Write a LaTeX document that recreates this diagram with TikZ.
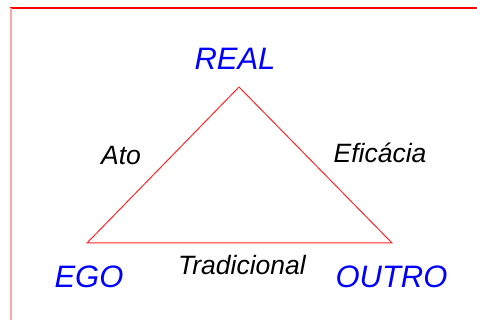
\documentclass[tikz,border=0pt]{standalone}
\usepackage{fontspec}
\setmainfont{Liberation Sans}
\usetikzlibrary{positioning}
\begin{document}
\begin{tikzpicture}[x=0.5pt,y=-0.5pt,
  vertice/.style={font=\fontsize{15.5}{18}\selectfont\itshape, text=blue, anchor=base, inner sep=0pt},
  relacao/.style={font=\fontsize{13.25}{16}\selectfont\itshape, text=black, anchor=base, inner sep=0pt}]
  \useasboundingbox (0,0) rectangle (477,320);
  % moldura
  \draw [red, line width=0.8pt] (10,8) -- (477,8);
  \draw [red!35, line width=0.75pt] (11,8) -- (11,320);
  % triangulo
  \coordinate (r) at (239,87);
  \coordinate (e) at (87,243);
  \coordinate (o) at (392,243);
  \draw [red!85, line width=0.5pt] (r) -- (e) -- (o) -- cycle;
  \node [vertice] (real) at (235,70) {REAL};
  \node [vertice] (ego) at (89,288) {EGO};
  \node [vertice] (outro) at (391.5,288) {OUTRO};
  \node [relacao] (ato) at (121,165) {Ato};
  \node [relacao] (eficacia) at (380,163) {Eficácia};
  \node [relacao] (trad) at (242,275) {Tradicional};
\end{tikzpicture}
\end{document}
